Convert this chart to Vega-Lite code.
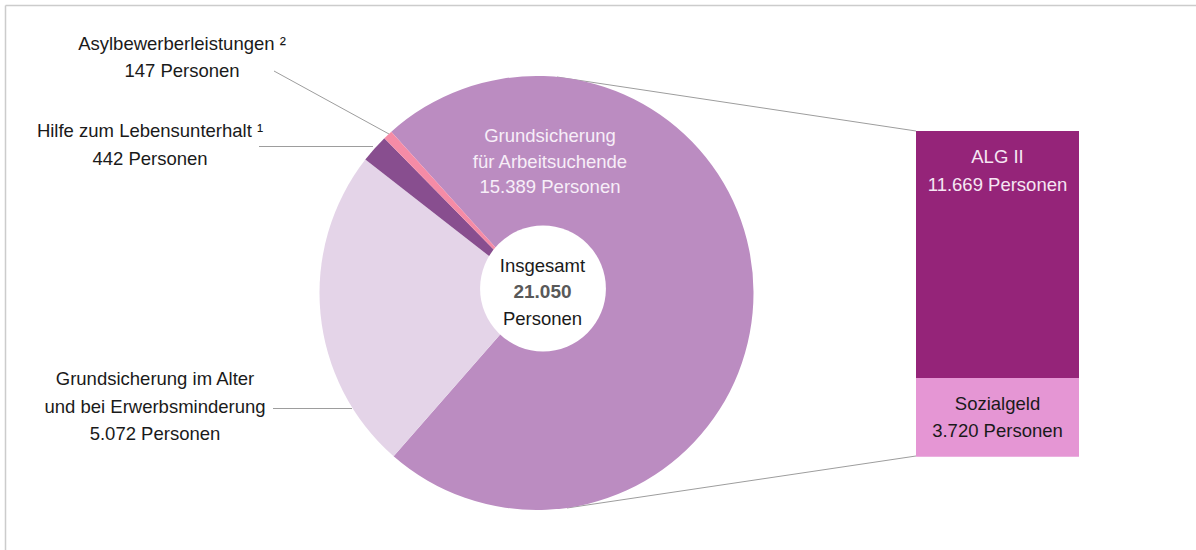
{
  "$schema": "https://vega.github.io/schema/vega-lite/v6.json",
  "width": 1196,
  "height": 550,
  "autosize": {"type": "none"},
  "padding": 0,
  "background": "white",
  "config": {
    "view": {"stroke": null},
    "font": "Liberation Sans",
    "locale": {"number": {"decimal": ",", "thousands": ".", "grouping": [3], "currency": ["", " €"]}},
    "text": {"font": "Liberation Sans", "fontSize": 18.5, "lineHeight": 27, "lineBreak": "\n", "baseline": "alphabetic", "align": "center", "color": "#1a1a1a"},
    "rule": {"color": "#9d9d9d", "strokeWidth": 1}
  },
  "datasets": {
    "pie": [
      {"name": "Grundsicherung für Arbeitsuchende", "value": 15389, "ord": 1, "label": "Grundsicherung\nfür Arbeitsuchende\n15.389 Personen"},
      {"name": "Grundsicherung im Alter und bei Erwerbsminderung", "value": 5072, "ord": 2, "label": "Grundsicherung im Alter\nund bei Erwerbsminderung\n5.072 Personen"},
      {"name": "Hilfe zum Lebensunterhalt", "value": 442, "ord": 3, "label": "Hilfe zum Lebensunterhalt ¹\n442 Personen"},
      {"name": "Asylbewerberleistungen", "value": 147, "ord": 4, "label": "Asylbewerberleistungen ²\n147 Personen"}
    ],
    "bar": [
      {"name": "ALG II", "value": 11669, "ord": 2, "label": "ALG II\n11.669 Personen"},
      {"name": "Sozialgeld", "value": 3720, "ord": 1, "label": "Sozialgeld\n3.720 Personen"}
    ],
    "total": [
      {"label": "Insgesamt", "total": 21050, "unit": "Personen"}
    ]
  },
  "layer": [
    {
      "data": {"values": [{}]},
      "mark": {"type": "rule", "color": "#cccccc", "strokeWidth": 1.5},
      "encoding": {"x": {"value": 5.5}, "y": {"value": 5.5}, "x2": {"value": 1196}, "y2": {"value": 5.5}}
    },
    {
      "data": {"values": [{}]},
      "mark": {"type": "rule", "color": "#cccccc", "strokeWidth": 1.5},
      "encoding": {"x": {"value": 5.5}, "y": {"value": 5.5}, "x2": {"value": 5.5}, "y2": {"value": 550}}
    },
    {
      "data": {"values": [{}]},
      "mark": {"type": "rule"},
      "encoding": {"x": {"value": 557}, "y": {"value": 77}, "x2": {"value": 916}, "y2": {"value": 131}}
    },
    {
      "data": {"values": [{}]},
      "mark": {"type": "rule"},
      "encoding": {"x": {"value": 567}, "y": {"value": 508}, "x2": {"value": 916}, "y2": {"value": 456}}
    },
    {
      "data": {"values": [{}]},
      "mark": {"type": "rule"},
      "encoding": {"x": {"value": 274}, "y": {"value": 71}, "x2": {"value": 389}, "y2": {"value": 134}}
    },
    {
      "data": {"values": [{}]},
      "mark": {"type": "rule"},
      "encoding": {"x": {"value": 259}, "y": {"value": 146.5}, "x2": {"value": 373}, "y2": {"value": 146.5}}
    },
    {
      "data": {"values": [{}]},
      "mark": {"type": "rule"},
      "encoding": {"x": {"value": 273}, "y": {"value": 408.5}, "x2": {"value": 352}, "y2": {"value": 408.5}}
    },
    {
      "data": {"name": "pie"},
      "mark": {"type": "arc", "x": 536.5, "y": 293, "outerRadius": 217, "innerRadius": 0},
      "encoding": {
        "theta": {"field": "value", "type": "quantitative", "stack": true, "scale": {"range": [-0.733, 5.5502]}},
        "order": {"field": "ord", "type": "quantitative"},
        "color": {
          "field": "name", "type": "nominal", "legend": null,
          "scale": {
            "domain": ["Grundsicherung für Arbeitsuchende", "Grundsicherung im Alter und bei Erwerbsminderung", "Hilfe zum Lebensunterhalt", "Asylbewerberleistungen", "ALG II", "Sozialgeld"],
            "range": ["#bb8cc1", "#e4d4e8", "#884e8f", "#f58ba6", "#952479", "#e596d4"]
          }
        }
      }
    },
    {
      "data": {"name": "total"},
      "mark": {"type": "circle", "x": 543, "y": 288.5, "size": 15837, "color": "white", "opacity": 1},
      "encoding": {}
    },
    {
      "data": {"name": "bar"},
      "transform": [{"stack": "value", "groupby": [], "sort": [{"field": "ord", "order": "ascending"}], "as": ["v0", "v1"]}],
      "mark": {"type": "bar"},
      "encoding": {
        "x": {"value": 916},
        "x2": {"value": 1079},
        "y": {"field": "v0", "type": "quantitative", "scale": {"domain": [-4408, 21579], "nice": false, "zero": false}, "axis": null},
        "y2": {"field": "v1"},
        "color": {"field": "name", "type": "nominal", "legend": null}
      }
    },
    {
      "data": {"name": "bar"},
      "transform": [{"stack": "value", "groupby": [], "sort": [{"field": "ord", "order": "ascending"}], "as": ["v0", "v1"]}],
      "mark": {"type": "text", "dy": 32, "lineHeight": 27.5},
      "encoding": {
        "x": {"value": 997.5},
        "y": {"field": "v1", "type": "quantitative"},
        "text": {"field": "label"},
        "color": {"condition": {"test": "datum.name === 'ALG II'", "value": "#f6e6f3"}, "value": "#1a1a1a"}
      }
    },
    {
      "data": {"name": "pie"},
      "transform": [{"filter": "datum.ord === 1"}],
      "mark": {"type": "text", "x": 550, "y": 142, "color": "#f7eef8", "lineHeight": 25.5},
      "encoding": {"text": {"field": "label"}}
    },
    {
      "data": {"name": "pie"},
      "transform": [{"filter": "datum.ord === 2"}],
      "mark": {"type": "text", "x": 155, "y": 385, "lineHeight": 27.5},
      "encoding": {"text": {"field": "label"}}
    },
    {
      "data": {"name": "pie"},
      "transform": [{"filter": "datum.ord === 3"}],
      "mark": {"type": "text", "x": 150, "y": 137, "lineHeight": 28},
      "encoding": {"text": {"field": "label"}}
    },
    {
      "data": {"name": "pie"},
      "transform": [{"filter": "datum.ord === 4"}],
      "mark": {"type": "text", "x": 182, "y": 50, "lineHeight": 27},
      "encoding": {"text": {"field": "label"}}
    },
    {
      "data": {"name": "total"},
      "mark": {"type": "text", "x": 542.5, "y": 271.7},
      "encoding": {"text": {"field": "label"}}
    },
    {
      "data": {"name": "total"},
      "mark": {"type": "text", "x": 542.5, "y": 298.3, "fontWeight": "bold", "color": "#595959", "fontSize": 19},
      "encoding": {"text": {"field": "total", "type": "quantitative", "format": ",d"}}
    },
    {
      "data": {"name": "total"},
      "mark": {"type": "text", "x": 542.5, "y": 325},
      "encoding": {"text": {"field": "unit"}}
    }
  ]
}
